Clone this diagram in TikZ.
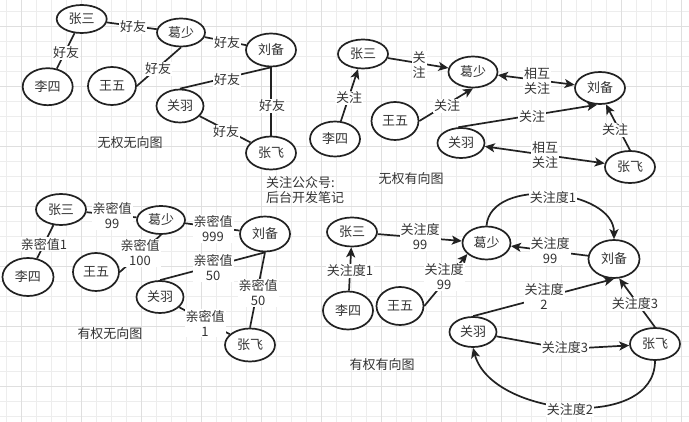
\documentclass[tikz,border=0pt]{standalone}
\usepackage{fontspec}
\setmainfont{Noto Sans CJK SC}
\usetikzlibrary{shapes.geometric,arrows.meta}
\definecolor{ink}{HTML}{222222}
\definecolor{txt}{HTML}{333333}
\definecolor{gridminor}{HTML}{EDEDED}
\definecolor{gridmajor}{HTML}{DFDFDF}
\newcommand{\lblfont}{\fontsize{13}{15}\selectfont}
\tikzset{
  pnode/.style={ellipse, draw=ink, line width=1.7pt, fill=white, minimum width=50pt, minimum height=32pt, inner sep=0pt, font=\lblfont, text=txt},
  tallnode/.style={minimum height=38pt},
  link/.style={draw=ink, line width=1.7pt},
  arr/.style={link, -{Stealth[length=10pt,width=9pt,inset=2.5pt]}},
  arrtwo/.style={link, {Stealth[length=10pt,width=9pt,inset=2.5pt]}-{Stealth[length=10pt,width=9pt,inset=2.5pt]}},
  lbl/.style={fill=white, inner sep=1pt, align=center, font=\lblfont, text=txt},
  caption/.style={inner sep=0pt, align=left, font=\lblfont, text=txt}
}
\begin{document}
\begin{tikzpicture}[x=1pt,y=-1pt]
\useasboundingbox (0,0) rectangle (689,422);
\fill[white] (0,0) rectangle (689,422);
% grid
\foreach \gx in {0,...,45} {\draw[gridminor, line width=0.8pt] ({6.7+15*\gx},0) -- ({6.7+15*\gx},422);}
\foreach \gy in {0,...,27} {\draw[gridminor, line width=0.8pt] (0,{11.7+15*\gy}) -- (689,{11.7+15*\gy});}
\foreach \gx in {0,...,11} {\draw[gridmajor, line width=0.8pt] ({21.7+60*\gx},0) -- ({21.7+60*\gx},422);}
\foreach \gy in {0,...,6} {\draw[gridmajor, line width=0.8pt] (0,{26.7+60*\gy}) -- (689,{26.7+60*\gy});}

% ---------- graph 1: 无权无向图 ----------
\node[pnode, minimum height=28pt] (zs1) at (81.7,19) {张三};
\node[pnode, minimum width=48pt, minimum height=28pt] (gs1) at (181,32.5) {葛少};
\node[pnode, minimum height=33pt] (lb1) at (271,50) {刘备};
\node[pnode, minimum height=37pt] (ls1) at (47.7,86.7) {李四};
\node[pnode, tallnode, minimum width=48pt] (ww1) at (112,86) {王五};
\node[pnode, minimum width=47pt, minimum height=33pt] (gy1) at (180,106) {关羽};
\node[pnode, minimum height=33pt] (zf1) at (271,153) {张飞};

\draw[link] (zs1) -- (gs1);
\draw[link] (zs1) -- (ls1);
\draw[link] (gs1.south) -- (ww1.east);
\draw[link] (gs1) -- (lb1);
\draw[link] (lb1.south) -- (gy1.north);
\draw[link] (lb1.south) -- (zf1.north);
\draw[link] (gy1) -- (zf1);
\node[lbl] (e1a) at (133,27) {好友};
\node[lbl] (e1b) at (66,53) {好友};
\node[lbl] (e1c) at (158,69) {好友};
\node[lbl] (e1d) at (227,43) {好友};
\node[lbl] (e1e) at (227,80) {好友};
\node[lbl] (e1f) at (272,106) {好友};
\node[lbl] (e1g) at (226,132) {好友};
\node[caption] (t1) at (130,143) {无权无向图};

\node[caption, anchor=west] (note) at (266,190) {关注公众号:\\后台开发笔记};

% ---------- graph 2: 无权有向图 ----------
\node[pnode, minimum height=29pt] (zs2) at (363,54) {张三};
\node[pnode, minimum width=49pt, minimum height=31pt] (gs2) at (473,72) {葛少};
\node[pnode, minimum height=32pt] (lb2) at (600,88) {刘备};
\node[pnode, minimum height=35pt] (ls2) at (335,139) {李四};
\node[pnode, tallnode, minimum width=47pt] (ww2) at (395,121) {王五};
\node[pnode, minimum width=47pt, minimum height=30pt] (gy2) at (461,143) {关羽};
\node[pnode, minimum height=32pt] (zf2) at (630,167) {张飞};

\draw[arr] (zs2) -- (gs2);
\draw[arr] (ls2) -- (zs2);
\draw[arr] (ww2.east) -- (gs2.south);
\draw[arrtwo] (gs2) -- (lb2);
\draw[arr] (gy2.100) -- (lb2.-100);
\draw[arr] (zf2.north) -- (lb2.-70);
\draw[arrtwo] (gy2) -- (zf2);
\node[lbl] (e2a) at (419,65) {关\\注};
\node[lbl] (e2b) at (349,98) {关注};
\node[lbl] (e2c) at (447,106) {关注};
\node[lbl] (e2d) at (537,81) {相互\\关注};
\node[lbl] (e2e) at (532,117) {关注};
\node[lbl] (e2f) at (615,130) {关注};
\node[lbl] (e2g) at (545,155) {相互\\关注};
\node[caption] (t2) at (411,179) {无权有向图};

% ---------- graph 3: 有权无向图 ----------
\node[pnode, minimum height=31pt] (zs3) at (61,209.5) {张三};
\node[pnode, minimum width=48pt, minimum height=28pt] (gs3) at (161,220) {葛少};
\node[pnode, minimum height=35pt] (lb3) at (265,234) {刘备};
\node[pnode, tallnode, minimum width=51pt] (ls3) at (28,277) {李四};
\node[pnode, tallnode, minimum width=46pt] (ww3) at (96,272) {王五};
\node[pnode, minimum width=47pt, minimum height=32pt] (gy3) at (160,297) {关羽};
\node[pnode, minimum height=33pt] (zf3) at (250,345) {张飞};

\draw[link] (zs3) -- (gs3);
\draw[link] (zs3) -- (ls3);
\draw[link] (gs3.south) -- (ww3.east);
\draw[link] (gs3) -- (lb3);
\draw[link] (lb3.south) -- (gy3.north);
\draw[link] (lb3.south) -- (zf3.north);
\draw[link] (gy3) -- (zf3);
\node[lbl] (e3a) at (112,216) {亲密值\\99};
\node[lbl] (e3b) at (44,244) {亲密值1};
\node[lbl] (e3c) at (140,253) {亲密值\\100};
\node[lbl] (e3d) at (213,229) {亲密值\\999};
\node[lbl] (e3e) at (213,268) {亲密值\\50};
\node[lbl] (e3f) at (258,293) {亲密值\\50};
\node[lbl] (e3g) at (205,323) {亲密值\\1};
\node[caption] (t3) at (110,334) {有权无向图};

% ---------- graph 4: 有权有向图 ----------
\node[pnode, minimum height=29pt] (zs4) at (352,232) {张三};
\node[pnode, minimum width=48pt, minimum height=33pt] (gs4) at (486.5,243) {葛少};
\node[pnode, tallnode, minimum width=51pt] (lb4) at (614,259) {刘备};
\node[pnode, tallnode] (ls4) at (348,310.5) {李四};
\node[pnode, tallnode, minimum width=47pt] (ww4) at (400,306) {王五};
\node[pnode, minimum width=47pt, minimum height=30pt] (gy4) at (473,332) {关羽};
\node[pnode, minimum height=32pt] (zf4) at (655,344) {张飞};
\coordinate (w1) at (565,349);

\draw[arr] (zs4) -- (gs4);
\draw[arr] (ls4) -- (zs4);
\draw[arr] (ww4.east) -- (gs4.-150);
\draw[arr] (gs4.north) to[out=85,in=90] (lb4.north);
\draw[arr] (lb4) -- (gs4);
\draw[arr] (gy4.north) -- (lb4.south);
\draw[arr] (zf4.north) -- (lb4.-75);
\draw[arr] (gy4) -- (w1) -- (zf4);
\draw[arr] (zf4.south) to[out=-90,in=-75] (gy4.south);
\node[lbl] (e4a) at (420,237) {关注度\\99};
\node[lbl] (e4b) at (350,271) {关注度1};
\node[lbl] (e4c) at (444,277) {关注度\\99};
\node[lbl] (e4d) at (553,198) {关注度1};
\node[lbl] (e4e) at (550,251) {关注度\\99};
\node[lbl] (e4f) at (544,297) {关注度\\2};
\node[lbl] (e4g) at (635,304) {关注度3};
\node[lbl] (e4h) at (565,348) {关注度3};
\node[lbl] (e4i) at (570,410) {关注度2};
\node[caption] (t4) at (382,365) {有权有向图};
\end{tikzpicture}
\end{document}
